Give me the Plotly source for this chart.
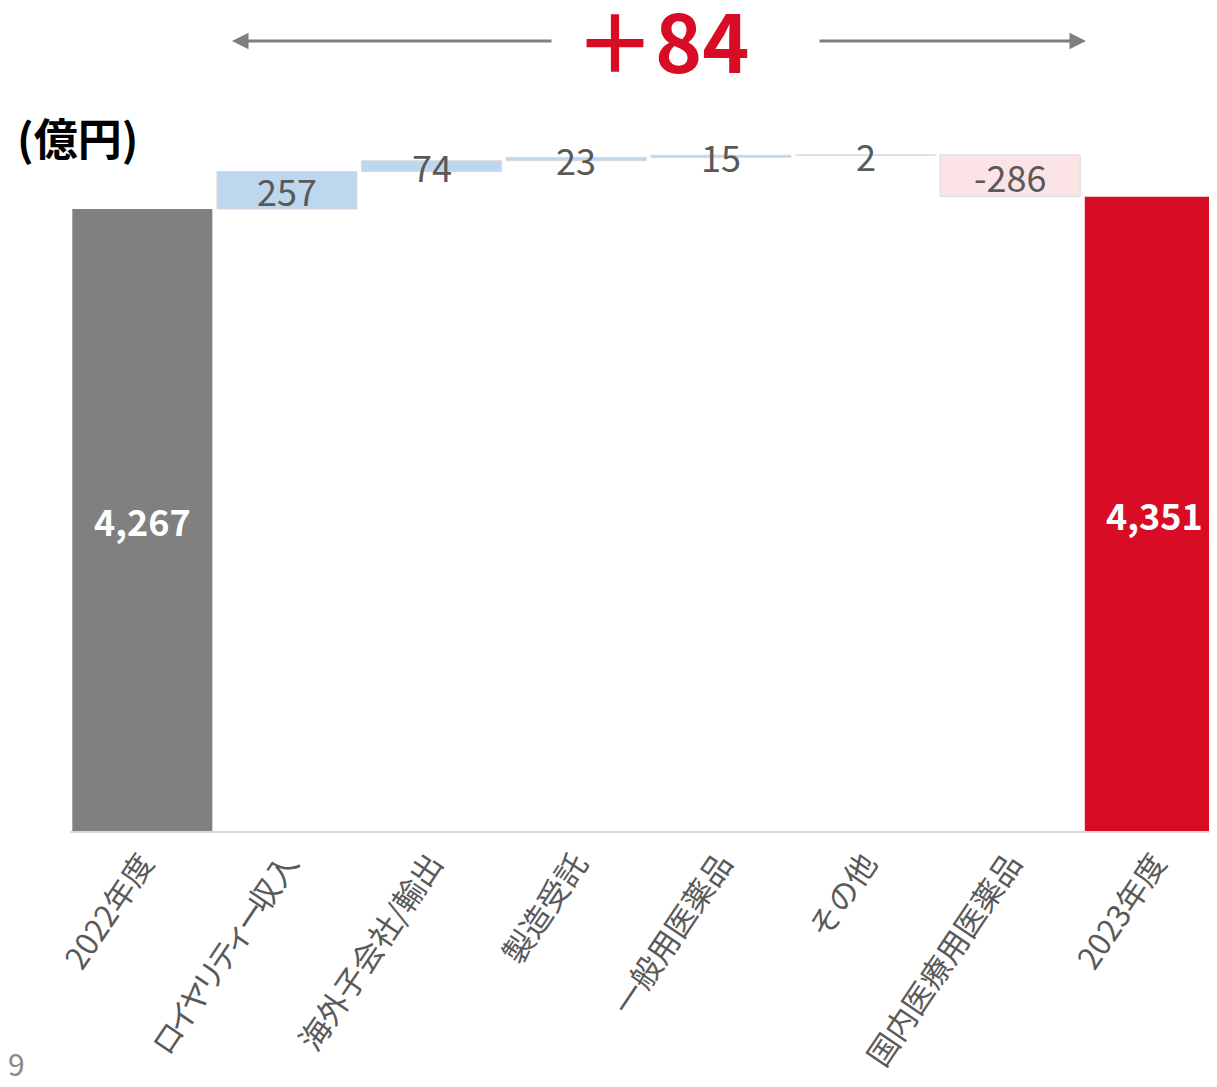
import plotly.graph_objects as go

categories = ["2022年度", "ロイヤリティー収入", "海外子会社/輸出", "製造受託",
              "一般用医薬品", "その他", "国内医療用医薬品", "2023年度"]
start_total = 4267
changes = [257, 74, 23, 15, 2, -286]
end_total = 4351
change_total = "＋84"

# bar geometry from data
bases, heights = [0], [start_total]
running = start_total
for c in changes:
    bases.append(running)
    heights.append(c)
    running += c
bases.append(0)
heights.append(end_total)

colors = ["#808080"] + ["#BDD7EE" if c >= 0 else "#FCE4E6" for c in changes] + ["#D80C24"]
line_w = [0] + [1] * len(changes) + [0]

fig = go.Figure()
fig.add_trace(go.Bar(
    x=list(range(len(categories))), y=heights, base=bases,
    marker=dict(color=colors, line=dict(color="#d9d9d9", width=line_w)),
    width=0.968, hoverinfo="skip",
))

FONT = "Noto Sans CJK JP"
annotations = []
for i, (b, h) in enumerate(zip(bases, heights)):
    total = i in (0, len(categories) - 1)
    txt = f"{h:,}"
    annotations.append(dict(
        x=i, y=b + h / 2, xref="x", yref="y", text=f"<b>{txt}</b>" if total else txt,
        showarrow=False, yshift=0, yanchor="middle",
        font=dict(family=FONT, size=36, color="white" if total else "#595959"),
    ))

OFF = 8  # page body margin
W, H = 1217 - OFF, 1087 - OFF
L, T, PB = 70 - OFF, 100 - OFF, 831 - OFF
PW, PH = W - L, PB - T
def px(x):  # screen px -> paper
    return (x - OFF - L) / PW
def py(y):
    return (PB - (y - OFF)) / PH

annotations += [
    dict(x=px(662), y=py(38), xref="paper", yref="paper", xanchor="center", yanchor="middle",
         text=f"<b>{change_total}</b>", showarrow=False,
         font=dict(family=FONT, size=80, color="#D80C24")),
    dict(x=px(232), y=py(41), xref="paper", yref="paper", text="", showarrow=True,
         ax=321, ay=0, arrowhead=2, arrowsize=1.1, arrowwidth=3, arrowcolor="#7f7f7f"),
    dict(x=px(1086), y=py(41), xref="paper", yref="paper", text="", showarrow=True,
         ax=-268, ay=0, arrowhead=2, arrowsize=1.1, arrowwidth=3, arrowcolor="#7f7f7f"),
    dict(x=px(77), y=py(137), xref="paper", yref="paper", xanchor="center", yanchor="middle",
         text="<b>(億円)</b>", showarrow=False,
         font=dict(family=FONT, size=44, color="#000000")),
    dict(x=px(16), y=py(1063), xref="paper", yref="paper", xanchor="center", yanchor="middle",
         text="9", showarrow=False, font=dict(family=FONT, size=30, color="#8a8a8a")),
]

# tighter kana spacing to mimic the proportional kana of the original font
tick_text = [c.replace("ロイヤリティー", '<span style="letter-spacing:-6px">ロイヤリティー</span>')
             for c in categories]

fig.update_layout(
    width=W, height=H, margin=dict(l=L, r=0, t=T, b=H - PB),
    paper_bgcolor="white", plot_bgcolor="white", showlegend=False,
    annotations=annotations,
    xaxis=dict(tickmode="array", tickvals=list(range(len(categories))), ticktext=tick_text,
               range=[-0.5, 7.43], tickangle=-56, showgrid=False, zeroline=False,
               showline=True, linecolor="#d9d9d9", linewidth=2, ticks="",
               tickfont=dict(family=FONT, size=31, color="#595959")),
    yaxis=dict(range=[0, PH / (622 / 4267)], visible=False),
)
fig.write_html("out.html")
